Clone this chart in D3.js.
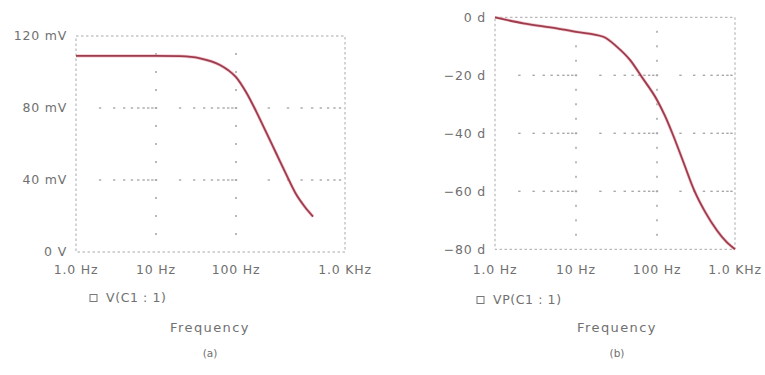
<!DOCTYPE html>
<html>
<head>
<meta charset="utf-8">
<script src="https://cdn.jsdelivr.net/npm/d3@7"></script>
<style>
  html, body { margin: 0; padding: 0; background: #fff; }
  svg { display: block; }
  text { font-family: "DejaVu Sans", "Open Sans", sans-serif; fill: #707070; }
</style>
</head>
<body>
<svg id="chart" width="765" height="375"></svg>
<script>
// ---------- data ----------
const xTickValues = [1, 10, 100, 1000];
const xTickLabels = ["1.0 Hz", "10 Hz", "100 Hz", "1.0 KHz"];
const minorFreqs = [2,3,4,5,6,7,8,9,10,20,30,40,50,60,70,80,90,100,200,300,400,500,600,700,800,900];

// panel (a): magnitude
const magFreq  = [1, 10, 20, 35.5, 63, 79.4, 100, 123.5, 152.6, 188.5, 233, 288, 355, 429, 509];
const magValue = [109, 109, 108.8, 107.6, 103.9, 101.1, 97.2, 88.9, 78.3, 66.7, 55, 43.3, 32.2, 25, 19.7];
const magYTicks = [0, 40, 80, 120];
const magYLabels = ["0 V", "40 mV", "80 mV", "120 mV"];
const magMinorY = [10,20,30,40,50,60,70,80,90,100,110];
const magGridY = [40, 80];

// panel (b): phase
const phFreq  = [1, 2.24, 5.78, 10, 21.7, 31.8, 46.4, 64.6, 100, 126.6, 160, 222, 298, 412, 588, 767, 1000];
const phValue = [0, -2.1, -3.8, -5, -6.7, -10.1, -14.7, -20.5, -28.5, -34, -40.5, -50.5, -59.5, -67, -73.5, -77.3, -80];
const phYTicks = [-80, -60, -40, -20, 0];
const phYLabels = ["\u221280 d", "\u221260 d", "\u221240 d", "\u221220 d", "0 d"];
const phMinorY = [-75,-70,-65,-60,-55,-50,-45,-40,-35,-30,-25,-20,-15,-10,-5];
const phGridY = [-60, -40, -20];

const gridFreqs = [10, 100];

// ---------- drawing ----------
const svg = d3.select("#chart");
const lineColor = "#9e3b4d";
const gridColor = "#a8a8a8";

function panel(cfg) {
  const g = svg.append("g");
  const x = d3.scaleLog().domain(xTickValues).range(cfg.xRange);
  const y = d3.scaleLinear().domain(cfg.yDomain).range(cfg.yRange);
  const [x0, x1] = [cfg.xRange[0], cfg.xRange[cfg.xRange.length - 1]];
  const [yb, yt] = cfg.yRange;

  // frame (dashed)
  g.append("rect")
    .attr("x", x0).attr("y", yt).attr("width", x1 - x0).attr("height", yb - yt)
    .attr("fill", "none").attr("stroke", gridColor).attr("stroke-width", 1)
    .attr("stroke-dasharray", "2.5,2.5");

  // horizontal grid lines: dots at minor frequencies
  cfg.gridY.forEach(v => {
    g.selectAll(null).data(minorFreqs).enter().append("rect")
      .attr("x", d => x(d) - 1.2).attr("y", y(v) - 0.7)
      .attr("width", 2.4).attr("height", 1.4).attr("fill", gridColor);
  });
  // vertical grid lines: dots at minor y values
  gridFreqs.forEach(f => {
    g.selectAll(null).data(cfg.minorY).enter().append("rect")
      .attr("x", x(f) - 0.8).attr("y", d => y(d) - 1)
      .attr("width", 1.6).attr("height", 2).attr("fill", gridColor);
  });

  // y tick labels
  g.selectAll(null).data(cfg.yTicks).enter().append("text")
    .attr("x", x0 - 9).attr("y", d => y(d)).attr("dy", "0.35em")
    .attr("text-anchor", "end").attr("font-size", 12.5)
    .attr("letter-spacing", 0.8)
    .text((d, i) => cfg.yLabels[i]);

  // x tick labels
  g.selectAll(null).data(xTickValues).enter().append("text")
    .attr("x", d => x(d)).attr("y", yb + cfg.xLabelOffset).attr("dy", "0.35em")
    .attr("text-anchor", "middle").attr("font-size", 12.5)
    .attr("letter-spacing", 0.8)
    .text((d, i) => xTickLabels[i]);

  // curve
  const line = d3.line()
    .x(d => x(d[0])).y(d => y(d[1]))
    .curve(d3.curveMonotoneX);
  const pts = cfg.freq.map((f, i) => [f, cfg.values[i]]);
  g.append("path").datum(pts)
    .attr("d", line).attr("fill", "none")
    .attr("stroke", "#e8a0ac").attr("stroke-width", 3.2).attr("stroke-opacity", 0.6);
  g.append("path").datum(pts)
    .attr("d", line).attr("fill", "none")
    .attr("stroke", lineColor).attr("stroke-width", 1.8);

  // legend
  g.append("rect")
    .attr("x", cfg.legendX).attr("y", cfg.legendY - 3.5).attr("width", 7).attr("height", 7)
    .attr("fill", "none").attr("stroke", "#777").attr("stroke-width", 1);
  g.append("text")
    .attr("x", cfg.legendX + 16).attr("y", cfg.legendY).attr("dy", "0.35em")
    .attr("font-size", 12.5).attr("letter-spacing", 0.6)
    .text(cfg.legendText);

  // axis title and caption
  g.append("text")
    .attr("x", cfg.titleX).attr("y", 327).attr("dy", "0.35em")
    .attr("text-anchor", "middle").attr("font-size", 13)
    .attr("letter-spacing", 1.4)
    .text("Frequency");
  g.append("text")
    .attr("x", cfg.titleX).attr("y", 353).attr("dy", "0.35em")
    .attr("text-anchor", "middle").attr("font-size", 10.5)
    .text(cfg.caption);
}

panel({
  xRange: [76, 156, 236, 345],
  yDomain: [0, 120], yRange: [252, 36],
  yTicks: magYTicks, yLabels: magYLabels,
  minorY: magMinorY, gridY: magGridY,
  freq: magFreq, values: magValue,
  xLabelOffset: 18,
  legendX: 90, legendY: 298, legendText: "V(C1 : 1)",
  titleX: 210, caption: "(a)"
});

panel({
  xRange: [495, 576, 657, 735],
  yDomain: [-80, 0], yRange: [249.3, 17.3],
  yTicks: phYTicks, yLabels: phYLabels,
  minorY: phMinorY, gridY: phGridY,
  freq: phFreq, values: phValue,
  xLabelOffset: 20,
  legendX: 477, legendY: 300, legendText: "VP(C1 : 1)",
  titleX: 617, caption: "(b)"
});
</script>
</body>
</html>
